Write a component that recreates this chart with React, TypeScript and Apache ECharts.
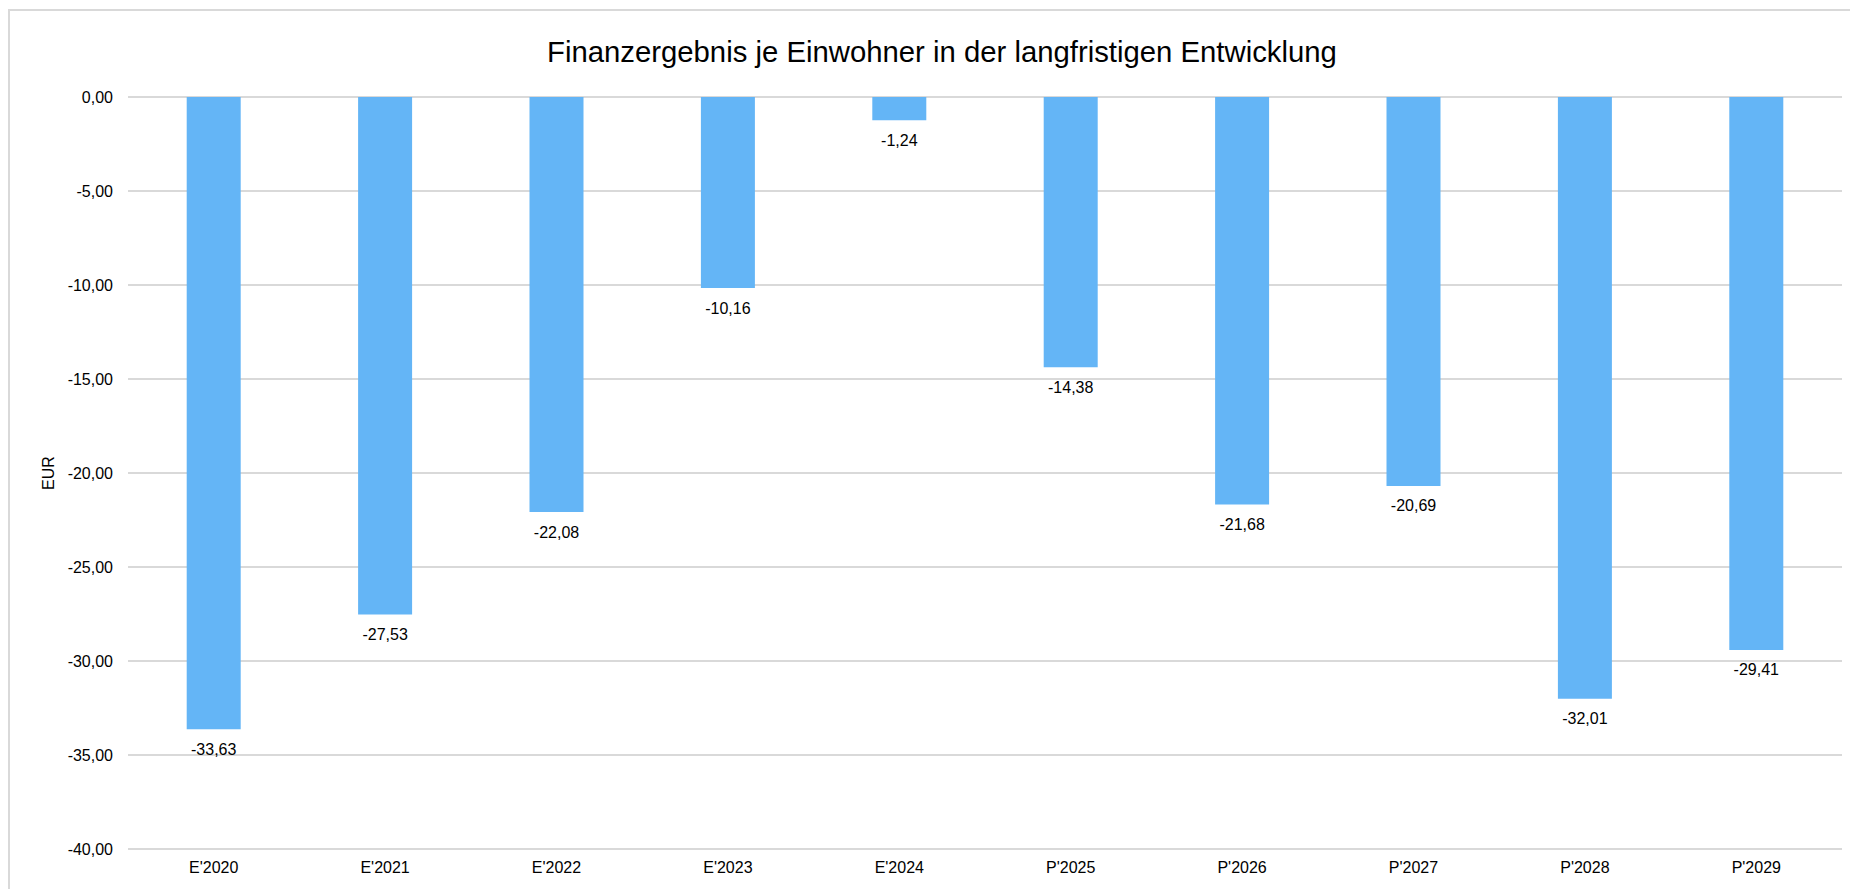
import React, { useEffect, useRef } from "react";
import * as echarts from "echarts";

const titleText = "Finanzergebnis je Einwohner in der langfristigen Entwicklung";
const categories = ["E'2020", "E'2021", "E'2022", "E'2023", "E'2024", "P'2025", "P'2026", "P'2027", "P'2028", "P'2029"];
const values = [-33.63, -27.53, -22.08, -10.16, -1.24, -14.38, -21.68, -20.69, -32.01, -29.41];
const yAxisName = "EUR";

const FONT = "'Liberation Sans', Arial, Helvetica, sans-serif";
const fmt = (v: number) => v.toFixed(2).replace(".", ",");

export default function App() {
  const ref = useRef<HTMLDivElement>(null);
  useEffect(() => {
    if (!ref.current) return;
    const chart = echarts.init(ref.current, null, { renderer: "svg" });
    chart.setOption({
      animation: false,
      backgroundColor: "#ffffff",
      textStyle: { fontFamily: FONT },
      title: {
        text: titleText,
        left: 532,
        top: 21,
        textStyle: { fontFamily: FONT, fontSize: 29.3, fontWeight: "normal", color: "#000" },
      },
      grid: { left: 118, right: 8, top: 86, bottom: 40, containLabel: false },
      xAxis: {
        type: "category",
        data: categories,
        position: "bottom",
        axisLine: { show: false, onZero: false },
        axisTick: { show: false },
        axisLabel: { fontFamily: FONT, fontSize: 16, color: "#000", margin: 10 },
      },
      yAxis: {
        type: "value",
        min: -40,
        max: 0,
        interval: 5,
        name: yAxisName,
        nameLocation: "middle",
        nameRotate: 90,
        nameGap: 68,
        nameTextStyle: { fontFamily: FONT, fontSize: 16, color: "#000" },
        axisLine: { show: false },
        axisTick: { show: false },
        axisLabel: { fontFamily: FONT, fontSize: 16, color: "#000", margin: 15, formatter: (v: number) => fmt(v) },
        splitLine: { lineStyle: { color: "#d9d9d9", width: 2 } },
      },
      series: [
        {
          type: "bar",
          data: values,
          barWidth: 54,
          itemStyle: { color: "#64b5f6" },
          label: {
            show: true,
            position: "bottom",
            distance: 12,
            fontFamily: FONT,
            fontSize: 16,
            color: "#000",
            formatter: (p: any) => fmt(p.value),
          },
        },
      ],
    });
    return () => chart.dispose();
  }, []);
  return (
    <div
      style={{
        position: "fixed",
        left: 8,
        top: 9,
        width: 1842,
        height: 880,
        boxSizing: "border-box",
        borderTop: "2px solid #d9d9d9",
        borderLeft: "2px solid #d9d9d9",
        background: "#fff",
      }}
    >
      <div ref={ref} style={{ width: "100%", height: "100%" }} />
    </div>
  );
}
